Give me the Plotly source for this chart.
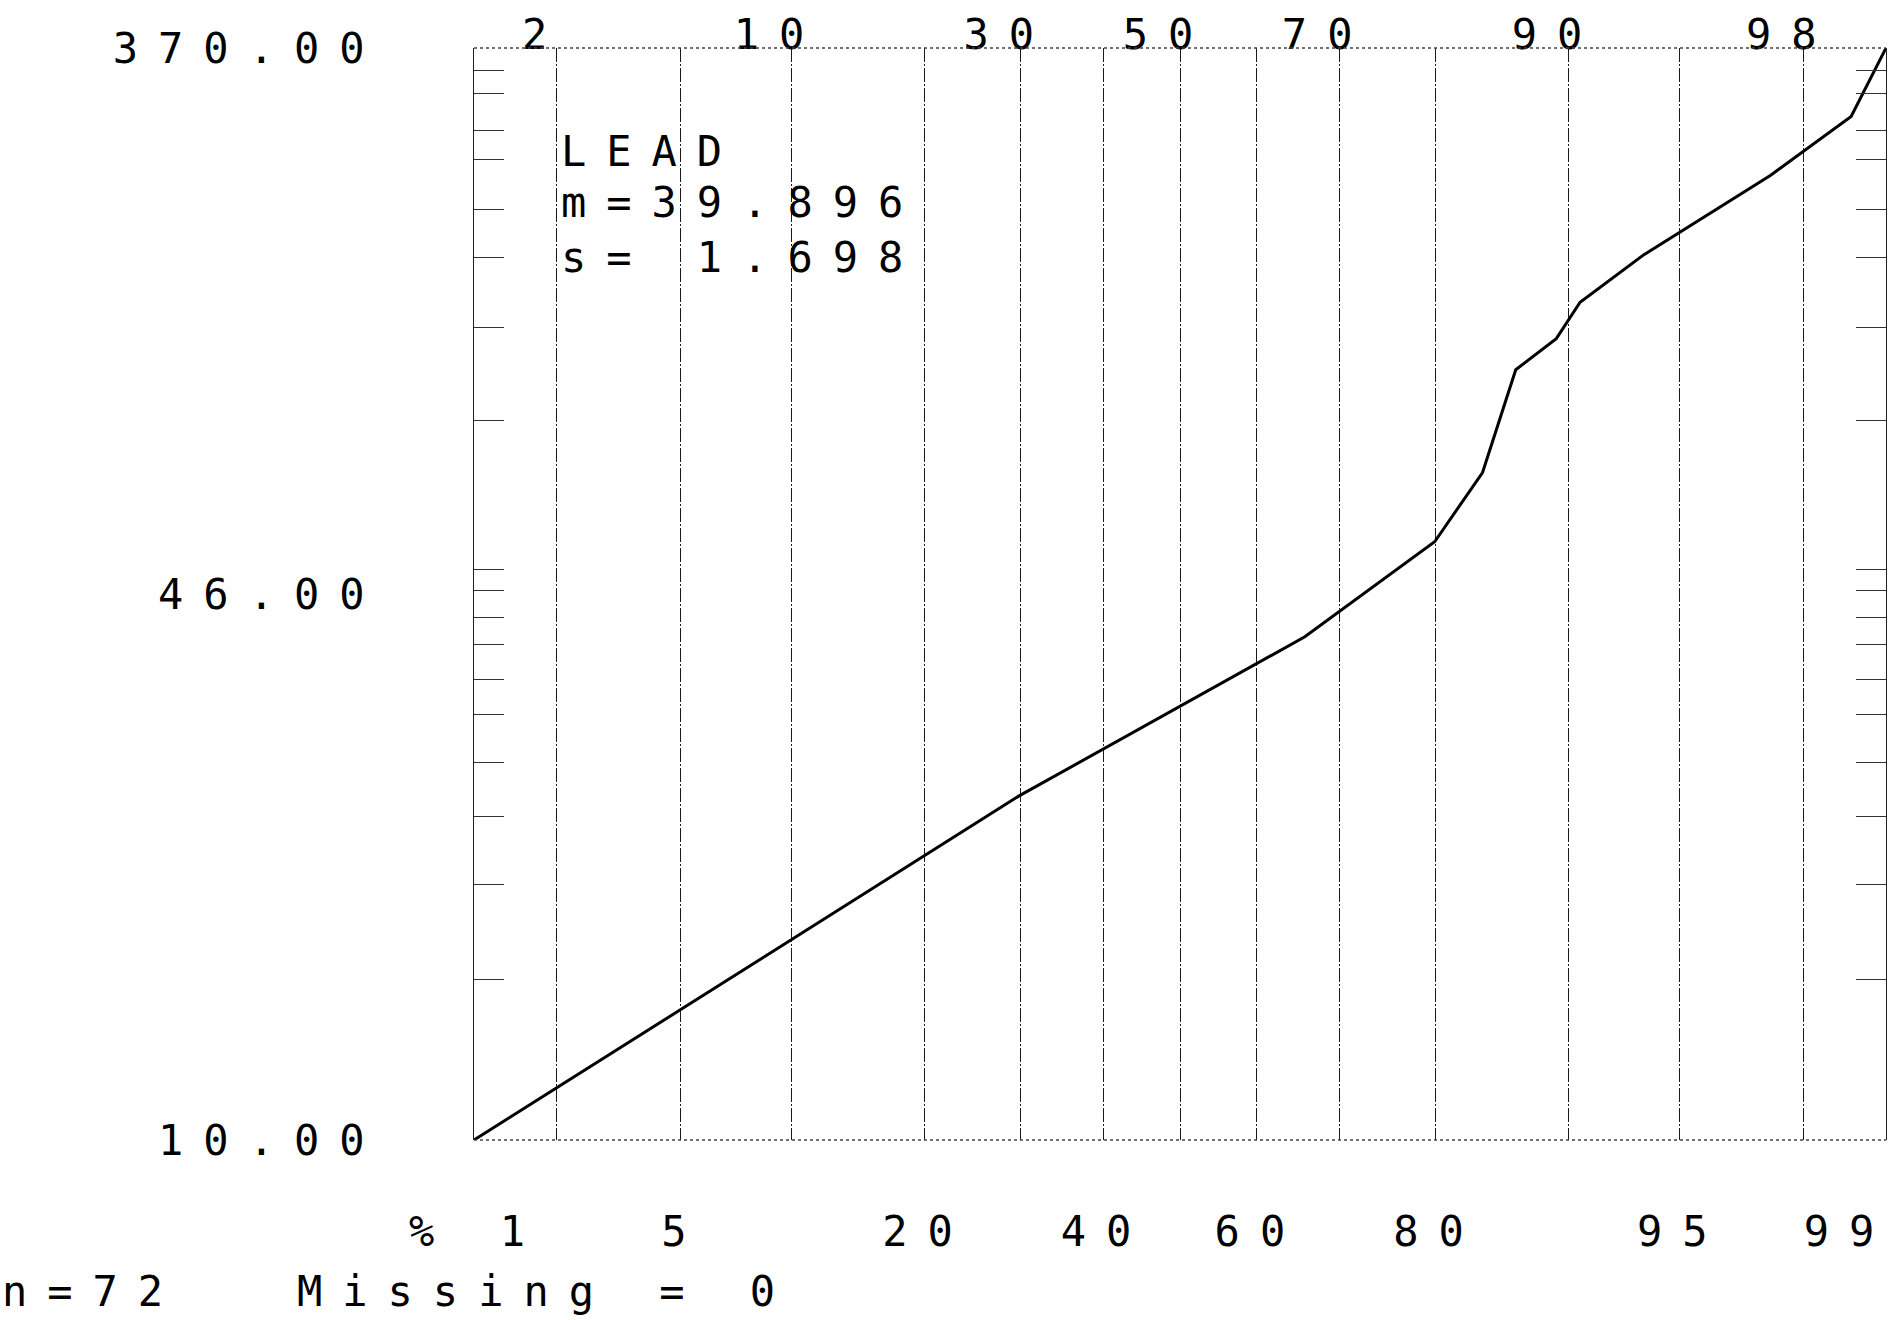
import math
from statistics import NormalDist
import plotly.graph_objects as go

# ---------------- data ----------------
# cumulative percentage (probability scale) and LEAD concentration (log scale)
cum_percent = [1, 29.8, 65.96, 79.93, 84.06, 86.57, 89.25, 90.63, 93.70, 97.42, 98.65, 99]
lead_values = [10, 31.2, 52.8, 72.3, 90.9, 127.7, 141.5, 159.6, 187, 243, 295, 370]

bottom_pct = [1, 5, 20, 40, 60, 80, 95]
bottom_labels = ["% 1", "5", "20", "40", "60", "80", "95"]
edge_pct = [99]          # last bottom label, sits at the right edge
edge_labels = ["99"]
top_pct = [2, 10, 30, 50, 70, 90, 98]
top_labels = ["2", "10", "30", "50", "70", "90", "98"]

y_min, y_max = 10, 370
y_tick_labels = ["10.00", "46.00", "370.00"]
y_minor_values = [17.0, 23.3, 29.1, 34.9, 40.9, 45.8, 51.4, 56.2, 61.6, 65.9,
                  108, 147, 185, 217, 256, 282, 318, 344]

stats_lines = ["LEAD", "m=39.896", "s= 1.698"]
footer_n = "n=72"
footer_missing = "Missing = 0"

# ---------------- probability-scale transform ----------------
nd = NormalDist()


def probit(p):
    return nd.inv_cdf(p / 100.0)


x_line = [probit(p) for p in cum_percent]
x_bottom = [probit(p) for p in bottom_pct]
x_edge = [probit(p) for p in edge_pct]
x_top = [probit(p) for p in top_pct]
x_range = [probit(1), probit(99)]

# y labels: bottom, middle (geometric centre of axis, as in the original), top
y_tickvals = [y_min, math.sqrt(y_min * y_max), y_max]

FONT = "DejaVu Sans Mono"
FSIZE = 42
GRID = dict(showgrid=True, gridcolor="#1a1a1a", gridwidth=1, griddash="14px,2px,2px,2px")
COMMON_X = dict(range=x_range, tickangle=0, ticks="", showline=False, zeroline=False,
                automargin=False, ticklabeloverflow="allow")

fig = go.Figure()
fig.add_trace(go.Scatter(x=x_line, y=lead_values, mode="lines",
                         line=dict(color="black", width=3),
                         showlegend=False, hoverinfo="skip"))
# helper traces so that the overlaid probability axes are drawn
for ax, xs in (("x2", x_top), ("x3", x_edge)):
    fig.add_trace(go.Scatter(x=xs, y=[y_min] * len(xs), mode="lines",
                             line=dict(color="rgba(0,0,0,0)", width=0), xaxis=ax,
                             showlegend=False, hoverinfo="skip"))

fig.update_layout(
    width=1896, height=1320,
    margin=dict(l=474, r=10, t=48, b=180, autoexpand=False),
    paper_bgcolor="white", plot_bgcolor="white",
    font=dict(family=FONT, size=FSIZE, color="black"),
    showlegend=False,
    xaxis=dict(tickvals=x_bottom, ticktext=bottom_labels,
               ticklabelstandoff=63, ticklabelshift=3, **COMMON_X, **GRID),
    xaxis2=dict(overlaying="x", side="top", matches="x",
                tickvals=x_top, ticktext=top_labels, ticklabelstandoff=-10,
                ticklabelshift=-12, **COMMON_X, **GRID),
    xaxis3=dict(overlaying="x", side="bottom", matches="x", showgrid=False,
                tickvals=x_edge, ticktext=edge_labels, ticklabelstandoff=63,
                ticklabelshift=-37, **COMMON_X),
    yaxis=dict(type="log", range=[math.log10(y_min), math.log10(y_max)],
               tickvals=y_tickvals, ticktext=y_tick_labels, ticks="",
               showgrid=False, zeroline=False, showline=True, automargin=False,
               linecolor="#222", linewidth=1.2, mirror="ticks",
               ticklabelstandoff=80, ticklabeloverflow="allow",
               minor=dict(tickvals=y_minor_values, ticks="inside", ticklen=30,
                          tickcolor="#333", tickwidth=1.2, showgrid=False)),
)

# dotted top and bottom frame lines
for yy in (0, 1):
    fig.add_shape(type="line", xref="paper", yref="paper", x0=0, x1=1, y0=yy, y1=yy,
                  line=dict(color="#444", width=1.5, dash="dot"))

# statistics block
for txt, yp in zip(stats_lines, [0.9048, 0.8581, 0.8086]):
    fig.add_annotation(text=txt, xref="paper", yref="paper", x=0.0602, y=yp,
                       xanchor="left", yanchor="middle", align="left",
                       showarrow=False, font=dict(family=FONT, size=FSIZE))

fig.add_annotation(text=footer_n, xref="paper", yref="paper", x=-0.3357, y=-0.1630,
                   xanchor="left", yanchor="bottom", align="left", showarrow=False,
                   font=dict(family=FONT, size=FSIZE))
fig.add_annotation(text=footer_missing, xref="paper", yref="paper", x=-0.1268, y=-0.1630,
                   xanchor="left", yanchor="bottom", align="left", showarrow=False,
                   font=dict(family=FONT, size=FSIZE))

post = ("var s=document.createElement('style');"
        "s.innerHTML='body{margin:0 !important;overflow:hidden;}"
        ".main-svg text{letter-spacing:20px !important;}';"
        "document.head.appendChild(s);")
fig.write_html("out.html", post_script=post, config={"displayModeBar": False})
